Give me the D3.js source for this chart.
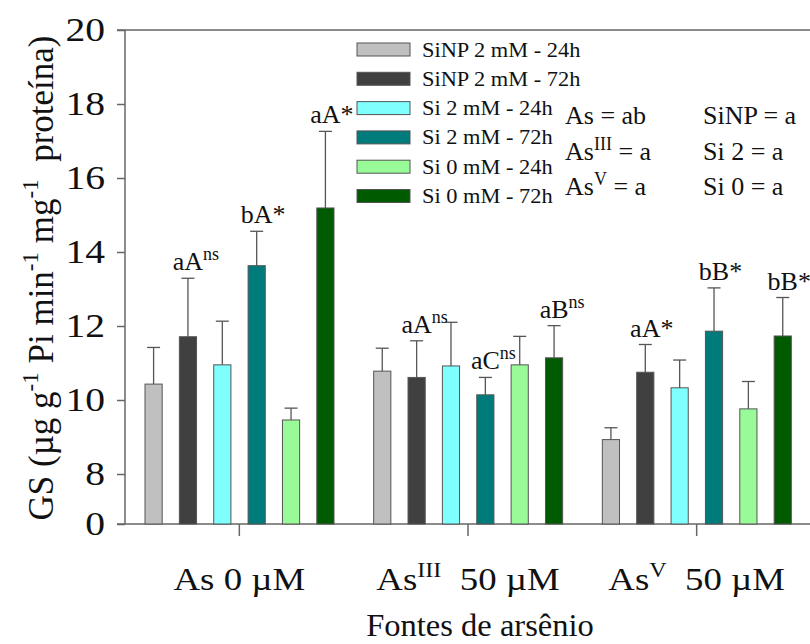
<!DOCTYPE html>
<html>
<head>
<meta charset="utf-8">
<script src="https://cdn.jsdelivr.net/npm/d3@7"></script>
<style>
  body { margin: 0; background: #fff; }
  text { font-family: "Liberation Serif", "Times New Roman", serif; fill: #111; }
</style>
</head>
<body>
<div id="chart-area"></div>
<script>
var categories = ["As0", "AsIII", "AsV"];
var series = ["SiNP 2 mM - 24h", "SiNP 2 mM - 72h", "Si 2 mM - 24h", "Si 2 mM - 72h", "Si 0 mM - 24h", "Si 0 mM - 72h"];
var colors = ["#c0c0c0", "#404040", "#80ffff", "#007b7b", "#98fb98", "#005a00"];

// means per series (As 0, AsIII, AsV)
var sinp24 = [10.43, 10.78, 8.93];
var sinp72 = [11.71, 10.61, 10.75];
var si2_24 = [10.95, 10.92, 10.33];
var si2_72 = [13.63, 10.14, 11.86];
var si0_24 = [9.46, 10.95, 9.76];
var si0_72 = [15.19, 11.14, 11.73];

// upper error (SE)
var sinp24Err = [0.99, 0.62, 0.32];
var sinp72Err = [1.58, 0.99, 0.75];
var si2_24Err = [1.18, 1.18, 0.75];
var si2_72Err = [0.93, 0.47, 1.17];
var si0_24Err = [0.32, 0.77, 0.74];
var si0_72Err = [2.07, 0.87, 1.04];

// letters over bars
var sinp72Lbl = [["aA", "ns"], ["aA", "ns"], ["aA", "*"]];
var si2_72Lbl = [["bA", "*"], ["aC", "ns"], ["bB", "*"]];
var si0_72Lbl = [["aA", "*"], ["aB", "ns"], ["bB", "*"]];

var yTicks = [0, 8, 10, 12, 14, 16, 18, 20];
var statsLeft = [["As", "", " = ab"], ["As", "III", " = a"], ["As", "V", " = a"]];
var statsRight = ["SiNP = a", "Si 2 = a", "Si 0 = a"];

var means = [sinp24, sinp72, si2_24, si2_72, si0_24, si0_72];
var errs = [sinp24Err, sinp72Err, si2_24Err, si2_72Err, si0_24Err, si0_72Err];
var lbls = [null, sinp72Lbl, null, si2_72Lbl, null, si0_72Lbl];

var data = [];
categories.forEach(function(c, i) {
  series.forEach(function(s, j) {
    data.push({ cat: c, ser: s, color: colors[j], mean: means[j][i], err: errs[j][i],
                lbl: lbls[j] ? lbls[j][i] : null });
  });
});

var svgWidth = 810, svgHeight = 644;
var plotL = 125, plotR = 811, plotT = 30, plotB = 524;

var svg = d3.select("#chart-area").append("svg")
  .attr("width", svgWidth).attr("height", svgHeight);

// broken y axis: 0, then 8..20
var y = d3.scaleLinear().domain([0, 8, 20]).range([plotB, 474, plotT]);
var x0 = d3.scaleBand().domain(categories).range([plotL, plotR]);
var x1 = d3.scaleBand().domain(series).range([20, 209]).paddingInner(0.5).paddingOuter(0);

var axisColor = "#666";

// frame top line
svg.append("line")
  .attr("x1", plotL - 8).attr("x2", plotR).attr("y1", plotT).attr("y2", plotT)
  .attr("stroke", axisColor).attr("stroke-width", 1.5);

var yAxis = svg.append("g")
  .attr("transform", "translate(" + plotL + ",0)")
  .call(d3.axisLeft(y).tickValues(yTicks).tickSize(8).tickFormat(""));
yAxis.select(".domain").attr("stroke", axisColor).attr("stroke-width", 1.5)
  .attr("d", "M0," + plotT + "V" + plotB);
yAxis.selectAll(".tick line").attr("stroke", axisColor).attr("stroke-width", 1.5);

var xAxis = svg.append("g")
  .attr("transform", "translate(0," + plotB + ")")
  .call(d3.axisBottom(x0).tickSize(12).tickFormat(""));
xAxis.select(".domain").attr("stroke", axisColor).attr("stroke-width", 1.5)
  .attr("d", "M" + (plotL - 8) + ",0H" + plotR);
xAxis.selectAll(".tick line").attr("stroke", axisColor).attr("stroke-width", 1.5);

// y tick labels
svg.selectAll(".ylab").data(yTicks).enter().append("text")
  .attr("class", "ylab")
  .attr("transform", function(d) { return "translate(105," + (y(d) + 11) + ") scale(1.2,1)"; })
  .attr("text-anchor", "end")
  .style("font-size", "33px")
  .text(function(d) { return d; });

// bars
var g = svg.append("g");
g.selectAll("rect").data(data).enter().append("rect")
  .attr("x", function(d) { return x0(d.cat) + x1(d.ser); })
  .attr("y", function(d) { return y(d.mean); })
  .attr("width", x1.bandwidth())
  .attr("height", function(d) { return plotB - y(d.mean); })
  .attr("fill", function(d) { return d.color; })
  .attr("stroke", "#555").attr("stroke-width", 1);

// error bars
var eb = g.selectAll(".err").data(data).enter().append("g").attr("class", "err");
eb.append("line")
  .attr("x1", function(d) { return x0(d.cat) + x1(d.ser) + x1.bandwidth() / 2; })
  .attr("x2", function(d) { return x0(d.cat) + x1(d.ser) + x1.bandwidth() / 2; })
  .attr("y1", function(d) { return y(d.mean); })
  .attr("y2", function(d) { return y(d.mean + d.err); })
  .attr("stroke", "#555").attr("stroke-width", 1.3);
eb.append("line")
  .attr("x1", function(d) { return x0(d.cat) + x1(d.ser) + x1.bandwidth() / 2 - 6.5; })
  .attr("x2", function(d) { return x0(d.cat) + x1(d.ser) + x1.bandwidth() / 2 + 6.5; })
  .attr("y1", function(d) { return y(d.mean + d.err); })
  .attr("y2", function(d) { return y(d.mean + d.err); })
  .attr("stroke", "#555").attr("stroke-width", 1.3);

// letters
data.filter(function(d) { return d.lbl; }).forEach(function(d) {
  var cx = x0(d.cat) + x1(d.ser) + x1.bandwidth() / 2;
  var by = y(d.mean + d.err) - 8;
  var main = svg.append("text")
    .attr("x", cx).attr("y", by)
    .attr("text-anchor", "middle")
    .style("font-size", "26px")
    .text(d.lbl[0]);
  var w = main.node().getComputedTextLength();
  if (d.lbl[1] === "ns") {
    svg.append("text").attr("x", cx + w / 2).attr("y", by - 10)
      .style("font-size", "18px").text("ns");
  } else {
    svg.append("text").attr("x", cx + w / 2).attr("y", by)
      .style("font-size", "26px").text("*");
  }
});

// legend
var legend = svg.selectAll(".legend").data(series).enter().append("g")
  .attr("class", "legend")
  .attr("transform", function(d, i) { return "translate(357," + (49.5 + i * 29.3) + ")"; });
legend.append("rect")
  .attr("x", 0).attr("y", -6.5).attr("width", 53).attr("height", 13)
  .attr("fill", function(d, i) { return colors[i]; })
  .attr("stroke", "#555").attr("stroke-width", 1);
legend.append("text")
  .attr("transform", "translate(65,7) scale(1.12,1)")
  .style("font-size", "20px")
  .text(function(d) { return d; });

// statistics text
statsLeft.forEach(function(s, i) {
  var t = svg.append("text")
    .attr("x", 565).attr("y", 124 + i * 35.5)
    .attr("xml:space", "preserve")
    .style("font-size", "26px");
  t.append("tspan").text(s[0]);
  if (s[1]) t.append("tspan").attr("dy", -10).style("font-size", "18px").text(s[1]);
  t.append("tspan").attr("dy", s[1] ? 10 : 0).text(s[2]);
});
statsRight.forEach(function(s, i) {
  svg.append("text")
    .attr("x", 703).attr("y", 124 + i * 35.5)
    .style("font-size", "26px")
    .text(s);
});

// x category labels
var xLabels = [["As 0 \u00b5M", "", ""], ["As", "III", "  50 \u00b5M"], ["As", "V", "  50 \u00b5M"]];
xLabels.forEach(function(l, i) {
  var t = svg.append("text")
    .attr("transform", "translate(" + (x0(categories[i]) + x0.bandwidth() / 2) + ",590) scale(1.15,1)")
    .attr("text-anchor", "middle")
    .attr("xml:space", "preserve")
    .style("font-size", "32px");
  t.append("tspan").text(l[0]);
  if (l[1]) {
    t.append("tspan").attr("dy", -13).style("font-size", "21px").text(l[1]);
    t.append("tspan").attr("dy", 13).text(l[2]);
  }
});

// x title
svg.append("text")
  .attr("transform", "translate(480,636) scale(1.05,1)")
  .attr("text-anchor", "middle")
  .style("font-size", "31px")
  .text("Fontes de ars\u00eanio");

// y title
var yt = svg.append("text")
  .attr("transform", "translate(53,278) rotate(-90)")
  .attr("text-anchor", "middle")
  .attr("xml:space", "preserve")
  .style("font-size", "35px");
yt.append("tspan").text("GS (\u00b5g g");
yt.append("tspan").attr("dy", -15).style("font-size", "23px").text("-1");
yt.append("tspan").attr("dy", 15).text(" Pi min");
yt.append("tspan").attr("dy", -15).style("font-size", "23px").text("-1");
yt.append("tspan").attr("dy", 15).text(" mg");
yt.append("tspan").attr("dy", -15).style("font-size", "23px").text("-1");
yt.append("tspan").attr("dy", 15).text("  prote\u00edna)");
</script>
</body>
</html>
